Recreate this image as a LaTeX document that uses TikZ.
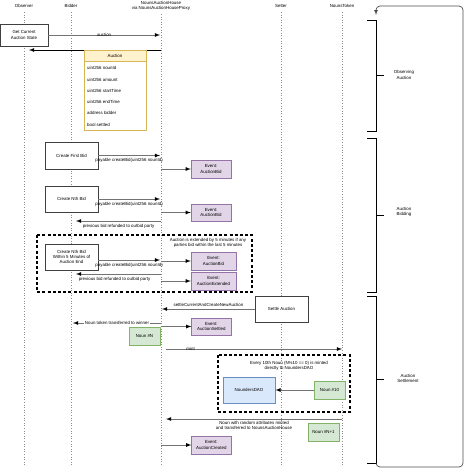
\documentclass[tikz,border=0pt]{standalone}
\usepackage{fontspec}
\setmainfont{Liberation Sans}
\definecolor{evfill}{HTML}{E1D5E7}
\definecolor{evdraw}{HTML}{9673A6}
\definecolor{nfill}{HTML}{D5E8D4}
\definecolor{ndraw}{HTML}{82B366}
\definecolor{dfill}{HTML}{DAE8FC}
\definecolor{ddraw}{HTML}{6C8EBF}
\definecolor{afill}{HTML}{FFF2CC}
\definecolor{adraw}{HTML}{D6B656}
\tikzset{
  every node/.style={font=\fontsize{4.4}{5.4}\selectfont, inner sep=1pt, align=center},
  actbox/.style={draw=black!75, fill=white, minimum width=53, minimum height=26},
  evbox/.style={draw=evdraw, fill=evfill, minimum width=40, minimum height=17.5},
  nounbox/.style={draw=ndraw, fill=nfill, minimum width=31, minimum height=18},
  msg/.style={draw=black!55, line width=0.8pt, >=latex},
  lifeline/.style={draw=black!45, dotted, line width=0.6pt},
  groupbox/.style={draw=black, line width=1.2pt, dash pattern=on 3pt off 2.2pt},
  phase/.style={draw=black, line width=0.8pt}
}
\begin{document}
\begin{tikzpicture}[x=1pt,y=-1pt]
\useasboundingbox (0,0) rectangle (467,471);

% lifelines
\node (h1) at (24,6) {Observer};
\node (h2) at (71,6) {Bidder};
\node (h3) at (161,6) {NounsAuctionHouse\\via NounsAuctionHouseProxy};
\node (h4) at (281,6) {Setter};
\node (h5) at (342,6) {NounsToken};
\draw[lifeline] (24,12) -- (24,466);
\draw[lifeline] (71,12) -- (71,466);
\draw[lifeline] (161,14) -- (161,466);
\draw[lifeline] (281,12) -- (281,466);
\draw[lifeline] (342,12) -- (342,466);

% observing
\node[actbox, minimum width=48, minimum height=22] (v1) at (24,35) {Get Current\\Auction State};
\coordinate (c1) at (160,35);
\coordinate (c2) at (161,50);
\coordinate (c3) at (29,50);
\draw[msg] (v1) edge[->] node{auction} (c1);
\draw[msg, draw=black] (c2) edge[->] (c3);

\node[draw=adraw, fill=white, minimum width=62, minimum height=80] (v2) at (115,90) {};
\node[draw=adraw, fill=afill, minimum width=62, minimum height=11] (v2h) at (115,55.5) {Auction};
\node[anchor=west] (r1) at (86,68) {uint256 nounId};
\node[anchor=west] (r2) at (86,79.5) {uint256 amount};
\node[anchor=west] (r3) at (86,90.5) {uint256 startTime};
\node[anchor=west] (r4) at (86,102) {uint256 endTime};
\node[anchor=west] (r5) at (86,113) {address bidder};
\node[anchor=west] (r6) at (86,124.5) {bool settled};

% bidding
\node[actbox, minimum height=27] (v3) at (71.5,155.5) {Create First Bid};
\node[evbox] (e1) at (211,169) {Event:\\AuctionBid};
\coordinate (c4) at (160,155.5);
\coordinate (c5) at (161,169);
\draw[msg] (v3) edge[->] node[below=1.5pt]{payable createBid(uint256 nounId)} (c4);
\draw[msg] (c5) edge[->] (e1);

\node[actbox] (v4) at (71.5,199) {Create Nth Bid};
\node[evbox] (e2) at (211,212.5) {Event:\\AuctionBid};
\coordinate (c6) at (160,199);
\coordinate (c7) at (161,212.5);
\coordinate (c8) at (161,221);
\coordinate (c9) at (76,221);
\draw[msg] (v4) edge[->] node[below=1.5pt]{payable createBid(uint256 nounId)} (c6);
\draw[msg] (c7) edge[->] (e2);
\draw[msg] (c8) edge[->] node[below=1.5pt]{previous bid refunded to outbid party} (c9);

\draw[groupbox] (37,235) rectangle (252,292);
\node (t1) at (208,243) {Auction is extended by 5 minutes if any\\parties bid within the last 5 minutes};
\node[actbox] (v5) at (71.5,257) {Create Nth Bid\\Within 5 Minutes of\\Auction End};
\node[evbox, minimum width=45] (e3) at (213.5,261) {Event:\\AuctionBid};
\node[evbox, minimum width=45, minimum height=18] (e4) at (213.5,281) {Event:\\AuctionExtended};
\coordinate (c10) at (160,260);
\coordinate (c11) at (161,261);
\coordinate (c12) at (161,274);
\coordinate (c13) at (76,274);
\coordinate (c14) at (161,281);
\draw[msg] ([yshift=-3pt]v5.east) edge[->] node[below=1.5pt]{payable createBid(uint256 nounId)} (c10);
\draw[msg] (c11) edge[->] (e3);
\draw[msg] (c12) edge[->] node[below=1.5pt, xshift=-4pt]{previous bid refunded to outbid party} (c13);
\draw[msg] (c14) edge[->] (e4);

% settlement
\node[actbox] (v6) at (281.5,309) {Settle Auction};
\coordinate (c15) at (162,309);
\draw[msg] (v6) edge[->] node[above=1pt]{settleCurrentAndCreateNewAuction} (c15);

\node[evbox, minimum width=39.5] (e5) at (211.3,326.5) {Event:\\AuctionSettled};
\node[nounbox] (n1) at (144.5,335.7) {Noun \#N};
\coordinate (c16) at (161,323);
\coordinate (c17) at (73,323);
\coordinate (c18) at (161,326.5);
\draw[msg] (c16) edge[->] node[fill=white, inner sep=0.5pt]{Noun token transferred to winner} (c17);
\draw[msg] (c18) edge[->] (e5);

\coordinate (c19) at (166,349);
\coordinate (c20) at (342,349);
\draw[msg] (c19) edge[->] node[pos=0.14]{mint} (c20);

\draw[groupbox] (218,355) rectangle (350,412);
\node (t2) at (289,365.7) {Every 10th Noun (N\%10 == 0) is minted\\directly to NoundersDAO};
\node[draw=ddraw, fill=dfill, minimum width=52.5, minimum height=26.5] (v7) at (249,390) {NoundersDAO};
\node[nounbox, minimum height=18.5] (n2) at (329.5,390) {Noun \#10};
\draw[msg] (n2) edge[->] (v7);

\coordinate (c21) at (342,419);
\coordinate (c22) at (166,419);
\draw[msg] (c21) edge[->] node[below=1pt]{Noun with random attributes minted\\and transferred to NounsAuctionHouse} (c22);
\node[nounbox] (n3) at (323.5,432) {Noun \#N+1};
\node[evbox, minimum width=39.5] (e6) at (211.3,445) {Event:\\AuctionCreated};
\coordinate (c23) at (161,445);
\draw[msg] (c23) edge[->] (e6);

% phases
\draw[phase] (367,20) -- (376,20) -- (376,131) -- (367,131) (376,75.5) -- (384,75.5);
\draw[phase] (367,138) -- (376,138) -- (376,292) -- (367,292) (376,215) -- (384,215);
\draw[phase] (367,296) -- (376,296) -- (376,463) -- (367,463) (376,379) -- (384,379);
\node (p1) at (404,75) {Observing\\Auction};
\node (p2) at (404,212) {Auction\\Bidding};
\node (p3) at (408,378.7) {Auction\\Settlement};

\coordinate (l1) at (376,463);
\coordinate (l2) at (376,15);
\draw[->, >=latex, draw=black!70, line width=0.7pt, rounded corners=4] (l1) -- (376,467) -- (463,467) -- (463,6) -- (376,6) -- (l2);
\end{tikzpicture}
\end{document}
